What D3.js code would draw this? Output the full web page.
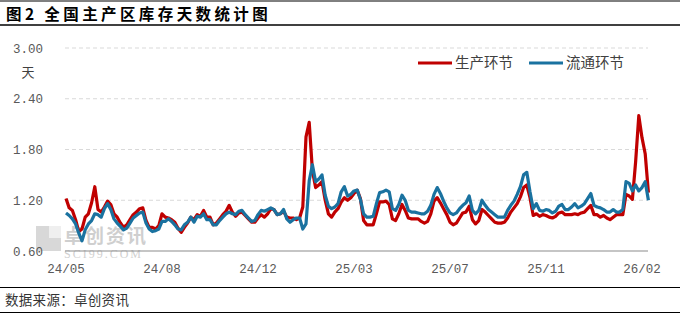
<!DOCTYPE html>
<html>
<head>
<meta charset="utf-8">
<script src="https://cdn.jsdelivr.net/npm/d3@7"></script>
<style>
  body { margin: 0; background: #fff; }
  svg { display: block; }
</style>
</head>
<body>
<div id="chart"></div>
<script>
/*
 * data (evenly spaced samples)
 */
const xLabels = ['24/05', '24/08', '24/12', '25/03', '25/07', '25/11', '26/02']
const labelEvery = 30
const yTicks = [0.6, 1.2, 1.8, 2.4, 3.0]
const seriesNames = ['生产环节', '流通环节']

const production = [
  1.22, 1.11, 1.08, 0.97, 0.83, 0.86, 1.00, 1.04, 1.17, 1.36,
  1.09, 1.06, 1.12, 1.19, 1.15, 1.04, 1.00, 0.93, 0.88, 0.91,
  0.97, 1.03, 1.06, 1.10, 1.11, 0.96, 0.88, 0.88, 0.86, 0.90,
  1.04, 1.00, 0.99, 0.97, 0.94, 0.87, 0.82, 0.88, 0.93, 1.00,
  0.97, 1.03, 1.01, 1.08, 1.00, 1.00, 0.91, 0.93, 0.98, 1.03,
  1.07, 1.14, 1.06, 1.01, 1.05, 1.06, 1.02, 0.98, 0.94, 0.94,
  0.99, 1.03, 1.00, 1.04, 1.10, 1.09, 1.03, 1.04, 1.07, 1.00,
  0.99, 0.99, 0.97, 0.99, 1.12, 1.95, 2.12, 1.55, 1.35, 1.38,
  1.42, 1.20, 1.04, 1.00, 1.06, 1.10, 1.18, 1.23, 1.20, 1.23,
  1.28, 1.32, 1.22, 0.96, 0.91, 0.91, 0.91, 1.04, 1.18, 1.18,
  1.19, 1.15, 0.98, 0.96, 1.04, 1.15, 1.08, 0.99, 0.98, 0.98,
  0.98, 0.95, 0.93, 0.95, 1.04, 1.19, 1.23, 1.17, 1.10, 1.03,
  0.94, 0.91, 0.93, 0.99, 1.05, 1.06, 1.13, 0.97, 0.92, 0.96,
  1.09, 1.06, 1.02, 0.98, 0.94, 0.93, 0.93, 0.94, 0.99, 1.06,
  1.11, 1.16, 1.24, 1.35, 1.38, 1.23, 1.02, 1.04, 1.01, 1.03,
  1.02, 1.00, 0.99, 1.01, 1.05, 1.06, 1.03, 1.03, 1.03, 1.04,
  1.03, 1.05, 1.06, 1.10, 1.14, 1.03, 1.03, 1.00, 1.02, 0.99,
  0.97, 1.00, 1.03, 1.03, 1.03, 1.27, 1.25, 1.21, 1.65, 2.20,
  1.94, 1.75, 1.29
]

const circulation = [
  1.05, 1.02, 0.98, 0.92, 0.81, 0.72, 0.85, 0.92, 0.96, 1.04,
  1.03, 1.00, 1.10, 1.16, 1.09, 0.98, 0.93, 0.89, 0.85, 0.87,
  0.93, 0.99, 1.02, 1.05, 1.06, 0.93, 0.86, 0.83, 0.84, 0.86,
  0.95, 0.95, 0.98, 0.95, 0.91, 0.86, 0.85, 0.91, 0.94, 1.00,
  0.94, 1.01, 1.00, 1.04, 0.97, 0.97, 0.91, 0.91, 0.96, 1.00,
  1.04, 1.06, 1.04, 1.03, 1.07, 1.08, 1.03, 0.99, 0.95, 0.96,
  1.03, 1.08, 1.07, 1.09, 1.11, 1.09, 1.03, 1.04, 1.09, 0.98,
  0.94, 0.97, 0.99, 0.99, 0.86, 0.92, 1.43, 1.62, 1.42, 1.45,
  1.50, 1.26, 1.13, 1.10, 1.12, 1.16, 1.30, 1.36, 1.25, 1.27,
  1.31, 1.32, 1.21, 1.04, 1.00, 1.00, 1.01, 1.16, 1.29, 1.30,
  1.32, 1.30, 1.10, 1.08, 1.15, 1.26, 1.20, 1.08, 1.06, 1.06,
  1.05, 1.04, 1.04, 1.07, 1.14, 1.27, 1.35, 1.28, 1.19, 1.11,
  1.05, 1.03, 1.05, 1.10, 1.14, 1.17, 1.25, 1.08, 1.04, 1.08,
  1.20, 1.14, 1.09, 1.06, 1.03, 1.00, 1.00, 1.00, 1.08, 1.14,
  1.19, 1.27, 1.36, 1.50, 1.53, 1.30, 1.10, 1.16, 1.08, 1.07,
  1.09, 1.08, 1.05, 1.07, 1.13, 1.15, 1.09, 1.09, 1.12, 1.16,
  1.11, 1.13, 1.16, 1.22, 1.28, 1.14, 1.12, 1.11, 1.09, 1.06,
  1.06, 1.09, 1.06, 1.06, 1.09, 1.42, 1.40, 1.31, 1.38, 1.31,
  1.35, 1.42, 1.20
]

const colors = ['#c00000', '#1a72a0']

/*
 * svg
 */
const w = 680
const h = 315
const svg = d3.select('#chart')
  .append('svg')
  .attr('width', w)
  .attr('height', h)

const x = d3.scaleLinear()
  .domain([0, production.length - 1])
  .range([66, 648.4])

const y = d3.scaleLinear()
  .domain([0.6, 3.0])
  .range([251, 48])

const numFont = '"Liberation Mono", "DejaVu Sans Mono", monospace'
const cjkFont = '"Noto Sans CJK SC", sans-serif'

// title + rules
svg.append('line')
  .attr('x1', 0).attr('x2', w).attr('y1', 1).attr('y2', 1)
  .style('stroke', '#000').style('stroke-width', 1)

svg.append('text')
  .attr('x', 6)
  .attr('y', 20)
  .style('font-family', cjkFont)
  .style('font-size', '15.5px')
  .style('font-weight', 'bold')
  .style('letter-spacing', '3.4px')
  .style('fill', '#000')
  .text('图2  全国主产区库存天数统计图')

svg.append('line')
  .attr('x1', 0).attr('x2', w).attr('y1', 25).attr('y2', 25)
  .style('stroke', '#000').style('stroke-width', 1.5)

// watermark
const wm = svg.append('g').attr('opacity', 0.4)
wm.append('rect').attr('x', 36).attr('y', 226).attr('width', 25).attr('height', 25).style('fill', '#a0a0a0')
wm.append('rect').attr('x', 49).attr('y', 226).attr('width', 12).attr('height', 12).style('fill', '#d8d8d8')
wm.append('text')
  .attr('x', 64).attr('y', 243)
  .style('font-family', cjkFont).style('font-size', '19px').style('font-weight', 'bold').style('fill', '#8a8a8a')
  .style('letter-spacing', '2px')
  .text('卓创资讯')
wm.append('text')
  .attr('x', 64).attr('y', 258)
  .style('font-family', 'Liberation Serif, serif').style('font-size', '12px').style('fill', '#8a8a8a')
  .style('letter-spacing', '2px')
  .text('SCI99.COM')

// grid
svg.append('g')
  .selectAll('line')
  .data(yTicks.slice(1))
  .enter()
  .append('line')
  .attr('x1', 65)
  .attr('x2', 648)
  .attr('y1', d => y(d))
  .attr('y2', d => y(d))
  .style('stroke', '#d9d9d9')
  .style('stroke-dasharray', '4,3')

// y axis
const yAxis = svg.append('g')
  .attr('transform', 'translate(46,0)')
  .call(d3.axisLeft(y).tickValues(yTicks).tickFormat(d3.format('.2f')).tickSize(0))
yAxis.select('.domain').remove()
yAxis.selectAll('text')
  .style('font-family', numFont)
  .style('font-size', '12.5px')
  .style('fill', '#595959')

svg.append('text')
  .attr('x', 28)
  .attr('y', 77)
  .attr('text-anchor', 'middle')
  .style('font-family', cjkFont)
  .style('font-size', '13px')
  .style('fill', '#404040')
  .text('天')

// x axis
svg.append('line')
  .attr('x1', 65).attr('x2', 648)
  .attr('y1', y(0.6)).attr('y2', y(0.6))
  .style('stroke', '#8c8c8c').style('stroke-width', 1.2)

svg.append('g')
  .selectAll('text')
  .data(xLabels)
  .enter()
  .append('text')
  .attr('x', (d, i) => x(i * labelEvery))
  .attr('y', 273)
  .attr('text-anchor', 'middle')
  .style('font-family', numFont)
  .style('font-size', '12.5px')
  .style('fill', '#595959')
  .text(d => d)

// lines
const line = d3.line()
  .x((d, i) => x(i))
  .y(d => y(d))

const series = [production, circulation]
svg.append('g')
  .selectAll('path')
  .data(series)
  .enter()
  .append('path')
  .attr('d', d => line(d))
  .style('fill', 'none')
  .style('stroke', (d, i) => colors[i])
  .style('stroke-width', 3.2)
  .style('stroke-linejoin', 'round')

// legend
const legendX = [418, 529]
const legend = svg.append('g')
  .selectAll('g')
  .data(seriesNames)
  .enter()
  .append('g')
  .attr('transform', (d, i) => `translate(${legendX[i]},63)`)
legend.append('line')
  .attr('x1', 0).attr('x2', 34)
  .style('stroke', (d, i) => colors[i])
  .style('stroke-width', 3)
legend.append('text')
  .attr('x', 37)
  .attr('y', 5)
  .style('font-family', cjkFont)
  .style('font-size', '14.5px')
  .style('fill', '#404040')
  .text(d => d)

// source footer
svg.append('line')
  .attr('x1', 0).attr('x2', w).attr('y1', 287.5).attr('y2', 287.5)
  .style('stroke', '#000').style('stroke-width', 1)

svg.append('text')
  .attr('x', 5)
  .attr('y', 305)
  .style('font-family', cjkFont)
  .style('font-size', '13.5px')
  .style('letter-spacing', '0.3px')
  .style('fill', '#333')
  .text('数据来源：卓创资讯')

svg.append('line')
  .attr('x1', 0).attr('x2', w).attr('y1', 312.5).attr('y2', 312.5)
  .style('stroke', '#000').style('stroke-width', 1)
</script>
</body>
</html>
